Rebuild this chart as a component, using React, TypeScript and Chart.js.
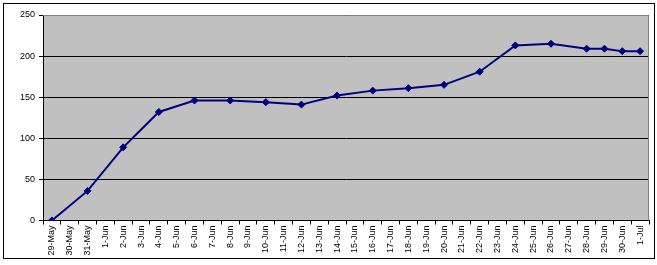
import React, { useEffect, useRef } from "react";
import { Chart, registerables } from "chart.js";

Chart.register(...registerables);

const categories: string[] = [
  "29-May", "30-May", "31-May",
  "1-Jun", "2-Jun", "3-Jun", "4-Jun", "5-Jun", "6-Jun", "7-Jun", "8-Jun", "9-Jun", "10-Jun",
  "11-Jun", "12-Jun", "13-Jun", "14-Jun", "15-Jun", "16-Jun", "17-Jun", "18-Jun", "19-Jun", "20-Jun",
  "21-Jun", "22-Jun", "23-Jun", "24-Jun", "25-Jun", "26-Jun", "27-Jun", "28-Jun", "29-Jun", "30-Jun",
  "1-Jul",
];

const values: (number | null)[] = [
  0, null, 36,
  null, 89, null, 132, null, 146, null, 146, null, 144,
  null, 141, null, 152, null, 158, null, 161, null, 165,
  null, 181, null, 213, null, 215, null, 209, 209, 206,
  206,
];

const yTicks = { min: 0, max: 250, step: 50 };

const FONT = "'Liberation Sans', Arial, sans-serif";

const framePlugin = {
  id: "excelFrame",
  beforeDraw(chart: any) {
    const { ctx, chartArea } = chart;
    ctx.save();
    ctx.fillStyle = "#ffffff";
    ctx.fillRect(0, 0, chart.width, chart.height);
    ctx.strokeStyle = "#000000";
    ctx.lineWidth = 1;
    ctx.strokeRect(3.5, 3.5, 651, 255);
    ctx.fillStyle = "#c0c0c0";
    ctx.fillRect(chartArea.left, chartArea.top, chartArea.right - chartArea.left, chartArea.bottom - chartArea.top);
    ctx.restore();
  },
  beforeDatasetsDraw(chart: any) {
    const { ctx, chartArea } = chart;
    ctx.save();
    ctx.strokeStyle = "#808080";
    ctx.lineWidth = 1;
    ctx.beginPath();
    ctx.moveTo(chartArea.left, Math.round(chartArea.top) + 0.5);
    ctx.lineTo(Math.round(chartArea.right) - 0.5, Math.round(chartArea.top) + 0.5);
    ctx.lineTo(Math.round(chartArea.right) - 0.5, chartArea.bottom);
    ctx.stroke();
    ctx.restore();
  },
};

export default function App() {
  const ref = useRef<HTMLCanvasElement | null>(null);

  useEffect(() => {
    if (!ref.current) return;
    const chart = new Chart(ref.current, {
      type: "line",
      data: {
        labels: categories,
        datasets: [
          {
            data: values,
            borderColor: "#000080",
            backgroundColor: "#000080",
            borderWidth: 2,
            pointStyle: "rectRot",
            pointRadius: 3.5,
            pointBorderWidth: 1,
            spanGaps: true,
            tension: 0,
          },
        ],
      },
      options: {
        animation: false,
        responsive: false,
        maintainAspectRatio: false,
        layout: { padding: { left: 0, top: 15, right: 8, bottom: 0 } },
        plugins: {
          legend: { display: false },
          tooltip: { enabled: false },
        },
        scales: {
          x: {
            offset: true,
            grid: {
              offset: true,
              drawOnChartArea: false,
              drawTicks: true,
              tickLength: 4,
              color: "#000000",
            },
            border: { display: true, color: "#000000", width: 1 },
            ticks: {
              autoSkip: false,
              minRotation: 90,
              maxRotation: 90,
              padding: 1,
              color: "#000000",
              font: { family: FONT, size: 9 },
            },
            afterFit(scale: any) {
              scale.height = 44.5;
            },
          },
          y: {
            min: yTicks.min,
            max: yTicks.max,
            grid: {
              color: "#000000",
              drawTicks: true,
              tickLength: 4,
            },
            border: { display: true, color: "#000000", width: 1 },
            ticks: {
              stepSize: yTicks.step,
              padding: 4,
              color: "#000000",
              font: { family: FONT, size: 9 },
            },
            afterFit(scale: any) {
              scale.width = 43;
            },
          },
        },
      },
      plugins: [framePlugin],
    });
    return () => chart.destroy();
  }, []);

  return (
    <div style={{ position: "absolute", left: 0, top: 0, width: 657, height: 265, background: "#fff" }}>
      <canvas ref={ref} width={657} height={265} style={{ width: 657, height: 265 }} />
    </div>
  );
}
